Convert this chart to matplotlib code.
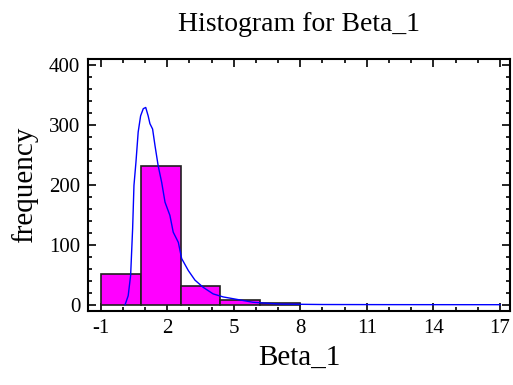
import numpy as np
import matplotlib.pyplot as plt
from matplotlib.ticker import MultipleLocator

plt.rcParams['font.family'] = ['Liberation Serif', 'DejaVu Serif']
plt.rcParams['axes.unicode_minus'] = False

# histogram bins (width 1.8) and counts
bin_left = [-1.0, 0.8, 2.6, 4.4, 6.2]
bin_width = 1.8
counts = [52, 231, 32, 8, 3]

# density curve
curve_x = [0.10, 0.24, 0.35, 0.44, 0.50, 0.59, 0.69, 0.80, 0.92, 1.03, 1.14,
           1.22, 1.34, 1.45, 1.59, 1.75, 1.90, 2.12, 2.27, 2.50, 2.65, 2.95,
           3.25, 3.62, 4.07, 4.52, 4.97, 5.87, 7.10, 9.0, 12.0, 17.0]
curve_y = [0, 15, 49, 127, 199, 238, 288, 315, 327, 329, 315,
           302, 293, 265, 232, 204, 171, 149, 121, 104, 77, 57,
           41, 29, 18, 13, 10, 4, 1, 0.3, 0.1, 0]

xticks = [-1, 2, 5, 8, 11, 14, 17]
yticks = [0, 100, 200, 300, 400]

fig = plt.figure(figsize=(5.13, 3.85), dpi=100)
ax = fig.add_axes([0.1725, 0.193, 0.8215, 0.654])

ax.bar(bin_left, counts, width=bin_width, align='edge', color='#ff00ff',
       edgecolor='#202020', linewidth=1.2, zorder=2)
ax.plot(curve_x, curve_y, color='#0000ff', lw=1.0, zorder=3)

ax.set_xlim(-1.55, 17.45)
ax.set_ylim(-10, 410)
ax.set_xticks(xticks)
ax.set_yticks(yticks)
ax.xaxis.set_minor_locator(MultipleLocator(1))
ax.yaxis.set_minor_locator(MultipleLocator(20))
ax.tick_params(which='both', direction='in', top=True, right=True,
               labelsize=15, width=1.2, pad=6)
ax.tick_params(which='major', length=6)
ax.tick_params(which='minor', length=3)
for s in ax.spines.values():
    s.set_linewidth(1.5)

ax.set_title('Histogram for Beta_1', fontsize=20, pad=20)
ax.set_xlabel('Beta_1', fontsize=21, labelpad=5)
ax.set_ylabel('frequency', fontsize=21, labelpad=8)

fig.savefig('out.png', dpi=100)
